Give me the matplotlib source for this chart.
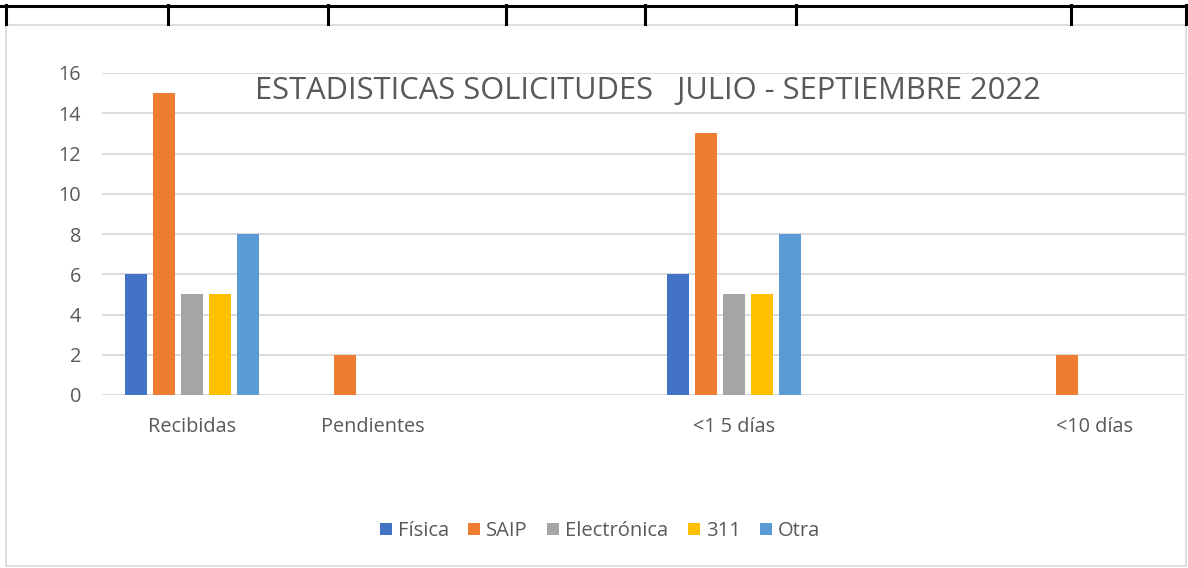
import numpy as np
import matplotlib.pyplot as plt
from matplotlib.patches import Rectangle
from matplotlib.lines import Line2D

plt.rcParams['font.family'] = ['Open Sans', 'DejaVu Sans']

# data (empty categories keep the Excel spacing)
categories = ["Recibidas", "Pendientes", "", "<1 5 días", "", "<10 días"]
series = ["Física", "SAIP", "Electrónica", "311", "Otra"]
fisica = [6, 0, 0, 6, 0, 0]
saip = [15, 2, 0, 13, 0, 2]
electronica = [5, 0, 0, 5, 0, 0]
tres11 = [5, 0, 0, 5, 0, 0]
otra = [8, 0, 0, 8, 0, 0]
colors = ["#4472C4", "#ED7D31", "#A5A5A5", "#FFC000", "#5B9BD5"]
title = "ESTADISTICAS SOLICITUDES   JULIO - SEPTIEMBRE 2022"

W, H = 1188, 568
fig = plt.figure(figsize=(W / 100, H / 100), dpi=100)

# outer chart frame and the table border above it
fig.patches.append(Rectangle((6 / W, 1 - 566 / H), 1180 / W, 541 / H,
                             transform=fig.transFigure, fill=False,
                             edgecolor="#D9D9D9", linewidth=1.2))
fig.lines.append(Line2D([0, 1], [1 - 5.5 / H, 1 - 5.5 / H],
                        transform=fig.transFigure, color="black", linewidth=2.2))
for xv in [6, 168, 328, 506, 645, 796, 1071, 1186]:
    fig.lines.append(Line2D([xv / W, xv / W], [1 - 5 / H, 1 - 24 / H],
                            transform=fig.transFigure, color="black", linewidth=2.2))

ax = fig.add_axes([102 / W, 1 - 395 / H, 1083 / W, 322 / H])
x = np.arange(len(categories))
w = 22 / 180.5
step = 28 / 180.5
vals = [fisica, saip, electronica, tres11, otra]
for i, (name, v) in enumerate(zip(series, vals)):
    ax.bar(x + (i - 2) * step, v, width=w, color=colors[i], label=name, zorder=3)

ax.set_xlim(-0.5, len(categories) - 0.5)
ax.set_ylim(0, 16)
ax.set_yticks(range(0, 17, 2))
ax.set_xticks(x)
ax.set_xticklabels(categories)
ax.grid(axis="y", color="#D9D9D9", linewidth=1.3, zorder=0)
for s in ax.spines.values():
    s.set_visible(False)
ax.tick_params(length=0, labelsize=14.3, labelcolor="#595959")
ax.tick_params(axis="y", pad=15)
ax.tick_params(axis="x", pad=16)

fig.text(648 / W, 1 - 91 / H, title, ha="center", va="center",
         fontsize=22.2, color="#595959")

fig.legend(loc="center", bbox_to_anchor=(600 / W, 1 - 531 / H), ncol=5,
           frameon=False, fontsize=14.5, labelcolor="#595959",
           handlelength=0.6, handleheight=0.6, handletextpad=0.3,
           columnspacing=0.95)

fig.savefig("out.png", dpi=100)
